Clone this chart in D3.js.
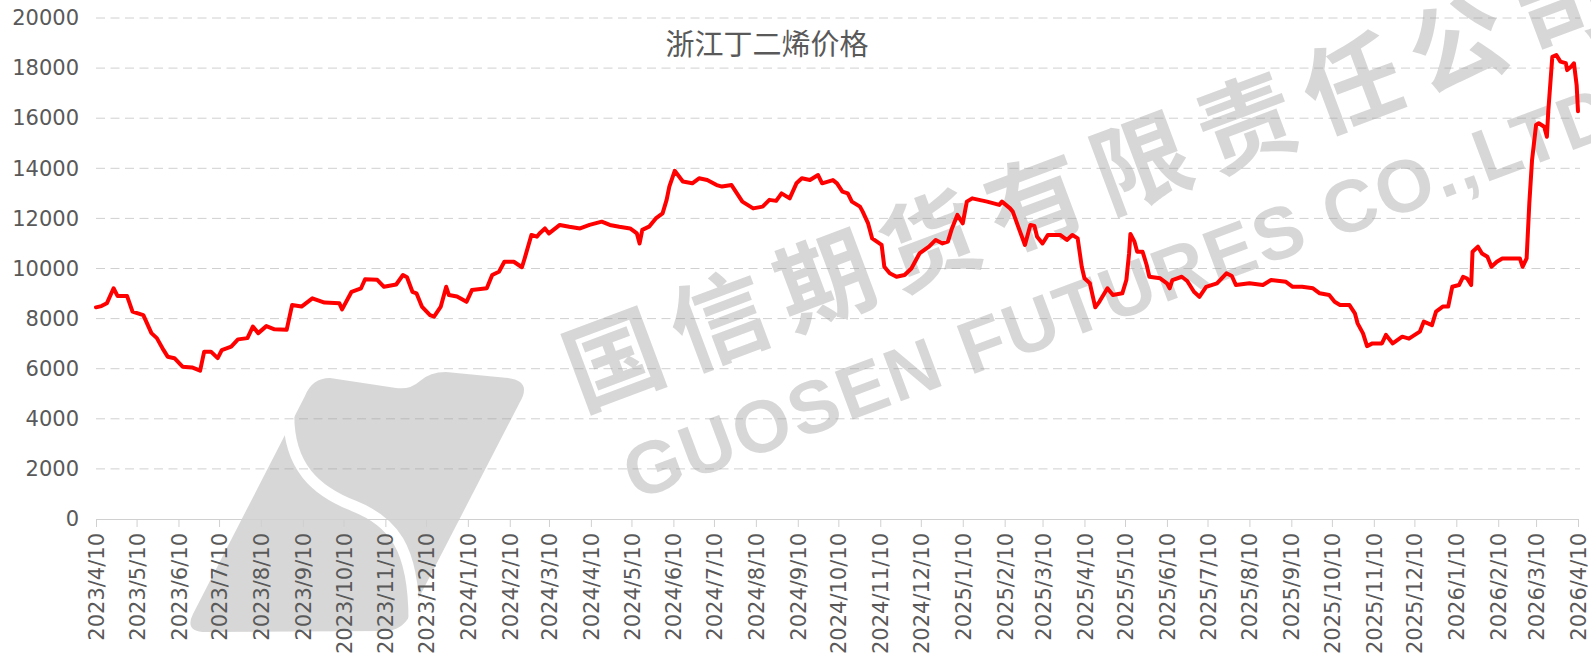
<!DOCTYPE html>
<html><head><meta charset="utf-8">
<script src="https://cdn.jsdelivr.net/npm/d3@7"></script>
<style>
body{margin:0;background:#fff;}
svg{display:block;}
</style>
</head><body>
<svg id="chart" width="1591" height="656"></svg>
<script>
const chartTitle = "浙江丁二烯价格";

const priceDates = [
"2023-04-10","2023-04-14","2023-04-18","2023-04-23","2023-04-26","2023-05-03","2023-05-07","2023-05-15","2023-05-21","2023-05-25",
"2023-05-30","2023-06-02","2023-06-07","2023-06-13","2023-06-20","2023-06-26","2023-06-29","2023-07-04","2023-07-09","2023-07-12",
"2023-07-19","2023-07-24","2023-07-31","2023-08-04","2023-08-08","2023-08-14","2023-08-20","2023-08-29","2023-09-02","2023-09-09",
"2023-09-17","2023-09-26","2023-10-07","2023-10-09","2023-10-16","2023-10-23","2023-10-26","2023-11-04","2023-11-09","2023-11-18",
"2023-11-23","2023-11-26","2023-11-30","2023-12-03","2023-12-07","2023-12-13","2023-12-16","2023-12-21","2023-12-25","2023-12-27",
"2024-01-02","2024-01-09","2024-01-13","2024-01-24","2024-01-28","2024-02-02","2024-02-06","2024-02-13","2024-02-19","2024-02-21",
"2024-02-26","2024-03-01","2024-03-03","2024-03-07","2024-03-10","2024-03-18","2024-03-25","2024-04-02","2024-04-09","2024-04-18",
"2024-04-24","2024-05-01","2024-05-09","2024-05-14","2024-05-16","2024-05-18","2024-05-23","2024-05-28","2024-06-02","2024-06-05",
"2024-06-07","2024-06-11","2024-06-17","2024-06-24","2024-06-29","2024-07-05","2024-07-12","2024-07-16","2024-07-23","2024-07-27",
"2024-07-31","2024-08-08","2024-08-15","2024-08-20","2024-08-25","2024-08-29","2024-09-04","2024-09-09","2024-09-13","2024-09-19",
"2024-09-25","2024-09-28","2024-10-06","2024-10-09","2024-10-13","2024-10-17","2024-10-20","2024-10-26","2024-10-28","2024-11-01",
"2024-11-04","2024-11-11","2024-11-13","2024-11-17","2024-11-22","2024-11-28","2024-12-03","2024-12-09","2024-12-16","2024-12-21",
"2024-12-26","2024-12-30","2025-01-02","2025-01-06","2025-01-10","2025-01-13","2025-01-17","2025-01-28","2025-02-06","2025-02-08",
"2025-02-14","2025-02-16","2025-02-20","2025-02-25","2025-03-01","2025-03-04","2025-03-06","2025-03-10","2025-03-14","2025-03-23",
"2025-03-28","2025-04-01","2025-04-05","2025-04-08","2025-04-10","2025-04-14","2025-04-18","2025-04-21","2025-04-27","2025-05-01",
"2025-05-08","2025-05-11","2025-05-13","2025-05-14","2025-05-17","2025-05-19","2025-05-23","2025-05-26","2025-05-28","2025-06-05",
"2025-06-10","2025-06-12","2025-06-14","2025-06-21","2025-06-25","2025-06-30","2025-07-04","2025-07-09","2025-07-17","2025-07-24",
"2025-07-28","2025-07-31","2025-08-10","2025-08-20","2025-08-26","2025-09-06","2025-09-11","2025-09-18","2025-09-26","2025-10-01",
"2025-10-08","2025-10-12","2025-10-16","2025-10-23","2025-10-27","2025-10-29","2025-11-02","2025-11-05","2025-11-09","2025-11-16",
"2025-11-19","2025-11-24","2025-12-01","2025-12-06","2025-12-14","2025-12-17","2025-12-23","2025-12-26","2025-12-31","2026-01-04",
"2026-01-07","2026-01-12","2026-01-15","2026-01-18","2026-01-21","2026-01-22","2026-01-26","2026-01-29","2026-02-02","2026-02-05",
"2026-02-09","2026-02-13","2026-02-26","2026-02-28","2026-03-03","2026-03-05","2026-03-07","2026-03-10","2026-03-12","2026-03-16",
"2026-03-18","2026-03-19","2026-03-22","2026-03-25","2026-03-28","2026-04-01","2026-04-02","2026-04-05","2026-04-07","2026-04-09",
"2026-04-10"
];

const priceValues = [
8450,8500,8610,9210,8900,8900,8280,8140,7420,7220,
6740,6480,6420,6080,6050,5920,6680,6680,6420,6740,
6880,7170,7220,7680,7420,7700,7570,7550,8540,8480,
8810,8640,8610,8370,9070,9210,9570,9550,9270,9360,
9740,9650,9070,9010,8480,8140,8080,8480,9270,8940,
8880,8670,9140,9210,9740,9870,10270,10270,10050,10400,
11340,11270,11400,11600,11400,11740,11670,11600,11740,11870,
11740,11670,11600,11400,11000,11540,11670,12000,12200,12740,
13270,13900,13470,13400,13600,13530,13330,13270,13330,13000,
12670,12400,12470,12740,12700,13000,12800,13400,13600,13530,
13730,13400,13530,13400,13070,13000,12670,12470,12270,11800,
11200,10940,10070,9810,9670,9740,10000,10600,10870,11140,
11000,11070,11600,12140,11800,12670,12800,12670,12540,12670,
12400,12270,11670,10940,11740,11700,11270,11000,11340,11340,
11140,11340,11200,10070,9610,9410,8450,8670,9210,8940,
9010,9540,10600,11380,11070,10670,10670,10140,9670,9610,
9410,9210,9540,9670,9500,9070,8870,9270,9410,9810,
9700,9340,9410,9340,9540,9470,9270,9270,9210,9010,
8940,8670,8540,8540,8210,7810,7410,6900,7010,7010,
7350,7010,7280,7200,7480,7880,7740,8280,8480,8480,
9270,9340,9670,9600,9340,10670,10870,10600,10470,10070,
10270,10400,10400,10070,10400,12600,14320,15730,15800,15660,
15260,16260,18450,18520,18260,18200,17920,18060,18190,17320,
16280
];

const yTickValues = [0,2000,4000,6000,8000,10000,12000,14000,16000,18000,20000];

const xTickLabels = [
"2023/4/10","2023/5/10","2023/6/10","2023/7/10","2023/8/10","2023/9/10","2023/10/10","2023/11/10","2023/12/10",
"2024/1/10","2024/2/10","2024/3/10","2024/4/10","2024/5/10","2024/6/10","2024/7/10","2024/8/10","2024/9/10","2024/10/10","2024/11/10","2024/12/10",
"2025/1/10","2025/2/10","2025/3/10","2025/4/10","2025/5/10","2025/6/10","2025/7/10","2025/8/10","2025/9/10","2025/10/10","2025/11/10","2025/12/10",
"2026/1/10","2026/2/10","2026/3/10","2026/4/10"
];

const watermarkCN = "国信期货有限责任公司";
const watermarkEN = "GUOSEN FUTURES CO.,LTD";

// ---------- drawing ----------
const svg = d3.select("#chart");
const parseDate = d3.timeParse("%Y-%m-%d");
const parseTick = d3.timeParse("%Y/%m/%d");
const tickDates = xTickLabels.map(parseTick);
const data = priceDates.map((d, i) => ({date: parseDate(d), value: priceValues[i]}));

const plot = {left: 96, right: 1578, top: 18, bottom: 519};
const x = d3.scaleTime().domain([tickDates[0], tickDates[tickDates.length - 1]]).range([plot.left, plot.right]);
const y = d3.scaleLinear().domain([0, 20000]).range([plot.bottom, plot.top]);

const labelFont = "'DejaVu Sans', sans-serif";
const textColor = "#595959";

// gridlines
svg.append("g").selectAll("line")
  .data(yTickValues.filter(v => v > 0))
  .join("line")
  .attr("x1", plot.left).attr("x2", plot.right + 2)
  .attr("y1", d => y(d)).attr("y2", d => y(d))
  .attr("stroke", "#d0d0d0").attr("stroke-width", 1)
  .attr("stroke-dasharray", "9,5.5");

// watermark
const wm = svg.append("g").attr("class", "watermark");
const defs = svg.append("defs");
const mask = defs.append("mask").attr("id", "logoMask");
mask.append("rect").attr("x", 0).attr("y", 0).attr("width", 1591).attr("height", 656).attr("fill", "#fff");
mask.append("path")
  .attr("d", "M289,408 C286,468 318,492 354,506 C392,521 414,546 414,620")
  .attr("fill", "none").attr("stroke", "#000").attr("stroke-width", 11);
wm.append("path")
  .attr("d", "M330,378 L396,388 Q410,390 420,381 Q430,372 446,372 L508,378 Q532,381 520,402 L410,615 Q402,631 384,631 L206,632 Q184,632 193,614 L305,396 Q312,378 330,378 Z")
  .attr("fill", "#9a9a9a").attr("fill-opacity", 0.4)
  .attr("mask", "url(#logoMask)");
wm.append("text")
  .attr("transform", "translate(1086,176) rotate(-20.5)")
  .attr("text-anchor", "middle").attr("dominant-baseline", "central")
  .attr("font-family", "'Noto Sans CJK SC', sans-serif").attr("font-weight", 700)
  .attr("font-size", 97)
  .attr("textLength", 1110).attr("lengthAdjust", "spacing")
  .attr("fill", "#9a9a9a").attr("fill-opacity", 0.4)
  .text(watermarkCN);
wm.append("text")
  .attr("transform", "translate(1118,293) rotate(-20.5)")
  .attr("text-anchor", "middle").attr("dominant-baseline", "central")
  .attr("font-family", "'Liberation Sans', sans-serif").attr("font-weight", 700)
  .attr("font-size", 74)
  .attr("textLength", 1050).attr("lengthAdjust", "spacing")
  .attr("fill", "#9a9a9a").attr("fill-opacity", 0.4)
  .text(watermarkEN);

// x axis
const xAxis = d3.axisBottom(x)
  .tickValues(tickDates)
  .tickFormat((d, i) => xTickLabels[i])
  .tickSize(8).tickSizeOuter(0);
const gx = svg.append("g").attr("transform", `translate(0,${plot.bottom})`).call(xAxis);
gx.select(".domain").attr("stroke", "#d0d0d0").attr("stroke-width", 1);
gx.selectAll(".tick line").attr("stroke", "#d0d0d0");
gx.selectAll(".tick text")
  .attr("transform", "rotate(-90)")
  .attr("text-anchor", "end")
  .attr("x", -14).attr("y", 0).attr("dy", "0.36em")
  .attr("font-family", labelFont).attr("font-size", 21)
  .attr("fill", textColor);

// y axis labels
const yAxis = d3.axisLeft(y).tickValues(yTickValues).tickSize(0).tickPadding(17).tickFormat(d3.format("d"));
const gy = svg.append("g").attr("transform", `translate(${plot.left},0)`).call(yAxis);
gy.select(".domain").remove();
gy.selectAll(".tick text")
  .attr("font-family", labelFont).attr("font-size", 21)
  .attr("fill", textColor);

// title
svg.append("text")
  .attr("x", 767).attr("y", 42)
  .attr("text-anchor", "middle").attr("dominant-baseline", "central")
  .attr("font-family", "'Noto Sans CJK SC', sans-serif")
  .attr("font-size", 29)
  .attr("fill", textColor)
  .text(chartTitle);

// price line
const line = d3.line().x(d => x(d.date)).y(d => y(d.value));
svg.append("path")
  .datum(data)
  .attr("d", line)
  .attr("fill", "none")
  .attr("stroke", "#ff0000")
  .attr("stroke-width", 4)
  .attr("stroke-linejoin", "round")
  .attr("stroke-linecap", "round");
</script>
</body></html>
